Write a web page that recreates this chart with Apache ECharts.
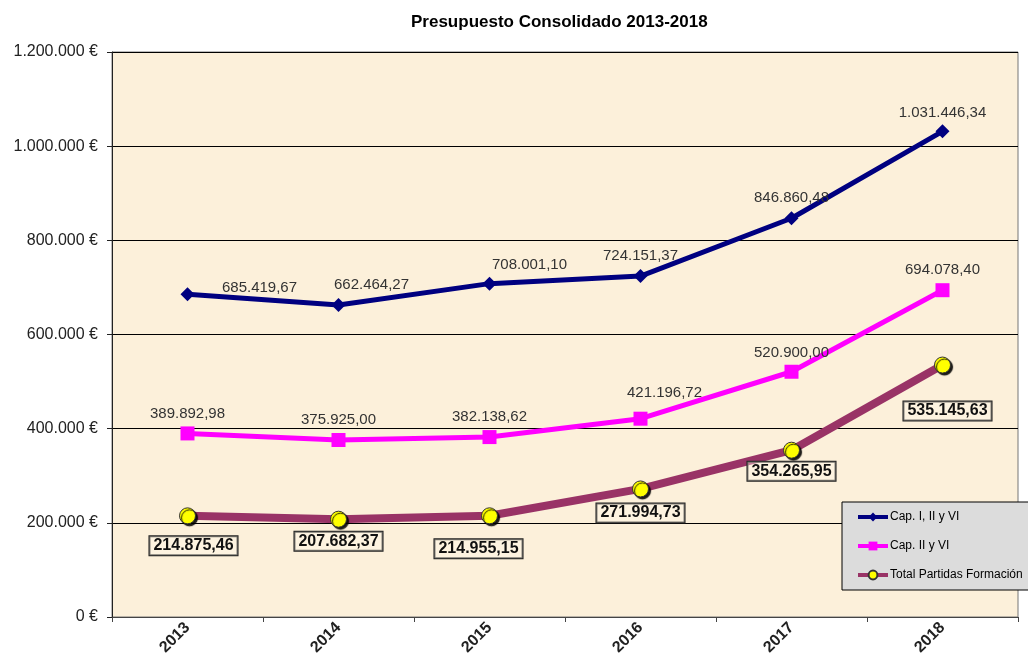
<!DOCTYPE html>
<html>
<head>
<meta charset="utf-8">
<script src="https://cdn.jsdelivr.net/npm/echarts@6/dist/echarts.min.js"></script>
<style>
  html, body { margin: 0; padding: 0; background: #fff; }
  #chart { width: 1028px; height: 658px; }
</style>
</head>
<body>
<div id="chart"></div>
<script>
const years = ["2013", "2014", "2015", "2016", "2017", "2018"];
const capIIIVI = [685419.67, 662464.27, 708001.10, 724151.37, 846860.48, 1031446.34];
const capIIVI = [389892.98, 375925.00, 382138.62, 421196.72, 520900.00, 694078.40];
const totalFormacion = [214875.46, 207682.37, 214955.15, 271994.73, 354265.95, 535145.63];
const yMin = 0;
const yMax = 1200000;
const yStep = 200000;

// label offsets relative to each marker (style only)
const offCapIIIVI = [[72, -6], [33, -20], [40, -19], [0, -20], [0, -20], [0, -19]];
const offCapIIVI = [[0, -20], [0, -20], [0, -20], [24, -26], [0, -19], [0, -20]];
const offTotal = [[6, 30], [0, 22], [-11, 33], [0, 24], [0, 21], [5, 46]];

const FONT = "Liberation Sans, Arial, sans-serif";

const fmtNum = (v, dec) => {
  const parts = Number(v).toFixed(dec).split(".");
  const intPart = parts[0].replace(/\B(?=(\d{3})+(?!\d))/g, ".");
  return dec > 0 ? intPart + "," + parts[1] : intPart;
};

const withOffsets = (values, offs) =>
  values.map((v, i) => ({ value: v, label: { offset: offs[i] } }));

const chart = echarts.init(document.getElementById("chart"));

chart.setOption({
  animation: false,
  backgroundColor: "#ffffff",
  textStyle: { fontFamily: FONT },
  title: {
    text: "Presupuesto Consolidado 2013-2018",
    left: 406,
    top: 9,
    textStyle: { fontFamily: FONT, fontSize: 17, fontWeight: "bold", color: "#000" }
  },
  grid: {
    left: 112,
    right: 10,
    top: 52,
    bottom: 41,
    show: true,
    backgroundColor: "#fcf0da",
    borderColor: "#777",
    borderWidth: 1,
    containLabel: false
  },
  legend: {
    orient: "vertical",
    left: 842,
    top: 502,
    padding: [9, 60, 9, 14],
    itemGap: 17,
    itemWidth: 30,
    itemHeight: 11,
    backgroundColor: "#dcdcdc",
    borderColor: "#000",
    borderWidth: 1,
    lineStyle: { width: 4 },
    textStyle: { fontFamily: FONT, fontSize: 12, color: "#000", padding: [0, 0, 0, -3] },
    data: ["Cap. I, II y VI", "Cap. II y VI", "Total Partidas Formación"]
  },
  xAxis: {
    type: "category",
    data: years,
    boundaryGap: true,
    axisLine: { lineStyle: { color: "#444", width: 1 } },
    axisTick: { show: true, length: 5, lineStyle: { color: "#444" } },
    axisLabel: {
      rotate: 45,
      margin: 8,
      fontFamily: FONT,
      fontSize: 16,
      fontWeight: "bold",
      color: "#222"
    },
    splitLine: { show: false }
  },
  yAxis: {
    type: "value",
    min: yMin,
    max: yMax,
    interval: yStep,
    axisLine: { show: true, lineStyle: { color: "#222", width: 1 } },
    axisTick: { show: true, length: 5, lineStyle: { color: "#222" } },
    axisLabel: {
      margin: 14,
      fontFamily: FONT,
      fontSize: 16,
      color: "#222",
      formatter: (v) => fmtNum(v, 0) + " €"
    },
    splitLine: { show: true, lineStyle: { color: "#000", width: 1 } }
  },
  series: [
    {
      name: "Cap. I, II y VI",
      type: "line",
      data: withOffsets(capIIIVI, offCapIIIVI),
      symbol: "diamond",
      symbolSize: 14,
      lineStyle: { color: "#000080", width: 5 },
      itemStyle: { color: "#000080" },
      label: {
        show: true,
        position: "inside",
        fontFamily: FONT,
        fontSize: 15,
        color: "#333",
        formatter: (p) => fmtNum(p.value, 2)
      },
      z: 3
    },
    {
      name: "Cap. II y VI",
      type: "line",
      data: withOffsets(capIIVI, offCapIIVI),
      symbol: "rect",
      symbolSize: 14,
      lineStyle: { color: "#ff00ff", width: 5 },
      itemStyle: { color: "#ff00ff" },
      label: {
        show: true,
        position: "inside",
        fontFamily: FONT,
        fontSize: 15,
        color: "#333",
        formatter: (p) => fmtNum(p.value, 2)
      },
      z: 3
    },
    {
      name: "Total Partidas Formación",
      type: "line",
      data: withOffsets(totalFormacion, offTotal),
      symbol: "circle",
      symbolSize: 16,
      lineStyle: { color: "#993366", width: 8 },
      itemStyle: {
        color: "#ffff00",
        borderColor: "#333",
        borderWidth: 1,
        shadowColor: "rgba(0,0,0,0.9)",
        shadowOffsetX: 2,
        shadowOffsetY: 2,
        shadowBlur: 1
      },
      label: {
        show: true,
        position: "inside",
        fontFamily: FONT,
        fontSize: 16,
        fontWeight: "bold",
        color: "#111",
        backgroundColor: "rgba(255,248,232,0.4)",
        borderColor: "#222",
        borderWidth: 1,
        padding: [2, 4, 1, 4],
        formatter: (p) => fmtNum(p.value, 2)
      },
      z: 3
    }
  ]
});

window.addEventListener("resize", () => chart.resize());
</script>
</body>
</html>
